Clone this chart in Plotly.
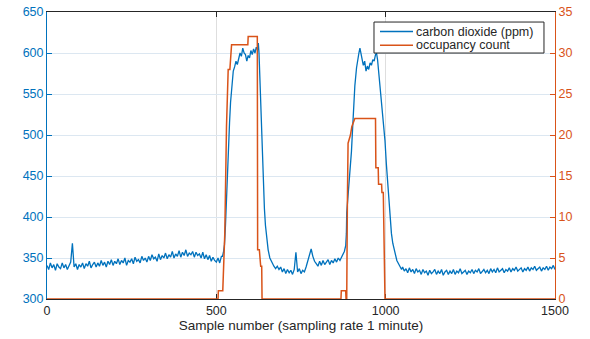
import plotly.graph_objects as go

# ---- CO2 (ppm) ----
# quiet period before first occupancy (samples 0..515, every 5 samples)
base1_x = list(range(0, 520, 5))
base1_y = [341, 336, 344, 338, 342, 335, 343, 339, 337, 344,
           338, 342, 336, 341, 345, 368, 339, 343, 336, 342,
           339, 344, 337, 343, 340, 346, 338, 342, 345, 339,
           344, 340, 347, 341, 345, 339, 346, 342, 348, 341,
           346, 343, 349, 342, 347, 344, 350, 341, 347, 345,
           349, 343, 351, 346, 348, 344, 352, 347, 350, 345,
           352, 347, 354, 349, 351, 346, 355, 348, 353, 350,
           356, 349, 354, 351, 358, 350, 355, 352, 359, 351,
           357, 353, 360, 352, 356, 354, 358, 351, 357, 353,
           355, 350, 357, 349, 354, 348, 353, 346, 351, 347,
           345, 350, 344, 352]
# first occupancy event
ev1_x = [518, 521, 524, 527, 530, 533, 536, 539, 542, 546, 550, 554, 558, 562, 566,
         570, 574, 578, 582, 586, 590, 594, 598, 602, 606, 610, 614, 618, 622, 624,
         626, 628, 630, 633, 636, 639, 642, 645, 649, 653, 658, 664, 670, 675]
ev1_y = [352, 357, 366, 390, 425, 465, 495, 515, 540, 562, 578, 583, 590, 586, 595,
         600, 596, 606, 600, 598, 590, 597, 594, 603, 598, 605, 600, 607, 604, 612,
         600, 575, 550, 505, 470, 436, 410, 390, 372, 360, 350, 344, 340, 337]
# between events (samples 680..870, every 5 samples)
base2_x = list(range(680, 875, 5))
base2_y = [340, 336, 339, 333, 337, 331, 336, 332, 335, 330,
           336, 357, 333, 337, 331, 335, 333, 339, 346, 354,
           361, 352, 346, 343, 340, 346, 341, 347, 342, 345,
           348, 342, 347, 344, 349, 345, 350, 347, 351]
# second occupancy event
ev2_x = [874, 878, 882, 884, 885, 888, 891, 895, 899, 902, 905, 909, 914, 918, 921,
         924, 927, 930, 934, 938, 942, 946, 950, 954, 958, 962, 966, 970, 973, 976,
         980, 983, 987, 991, 995, 998, 1002, 1006, 1010, 1013, 1017, 1021, 1025, 1028,
         1033, 1038, 1043, 1047]
ev2_y = [355, 358, 365, 380, 405, 420, 432, 453, 480, 505, 533, 560, 582, 595, 600,
         606, 598, 592, 585, 590, 578, 584, 580, 588, 585, 592, 590, 598, 600, 592,
         575, 558, 540, 520, 505, 493, 465, 440, 415, 400, 380, 368, 360, 355,
         347, 343, 340, 336]
# after the second event (samples 1050..1500, every 5 samples)
base3_x = list(range(1050, 1505, 5))
base3_y = [339, 334, 337, 332, 338, 333, 336, 331, 337, 333,
           335, 330, 336, 332, 334, 329, 335, 331, 333, 336,
           330, 334, 331, 336, 329, 333, 335, 330, 334, 331,
           336, 330, 334, 332, 337, 331, 333, 335, 330, 334,
           332, 336, 331, 335, 333, 337, 331, 334, 336, 332,
           335, 331, 337, 333, 336, 332, 338, 333, 335, 337,
           332, 336, 334, 338, 333, 337, 335, 339, 334, 336,
           338, 333, 337, 335, 339, 334, 338, 336, 340, 335,
           337, 339, 334, 338, 336, 340, 335, 339, 337, 341,
           336]

co2_x = base1_x + ev1_x + base2_x + ev2_x + base3_x
co2_y = base1_y + ev1_y + base2_y + ev2_y + base3_y

# ---- Occupancy count ----
occ_x = [0, 505, 506, 519, 525, 530, 535, 540, 545, 593, 594, 621, 622, 627, 631, 634, 635,
         868, 869, 882, 883, 885, 887, 889, 896, 900, 909, 970, 971, 978, 979, 988, 989,
         993, 998, 1500]
occ_y = [0, 0, 1, 1, 8, 21, 28, 28, 31, 31, 32, 32, 6, 6, 4, 4, 0,
         0, 1, 1, 0, 0, 12, 19, 20, 21, 22, 22, 16, 16, 14, 14, 13, 13, 0, 0]

x_ticks = [0, 500, 1000, 1500]
left_ticks = [300, 350, 400, 450, 500, 550, 600, 650]
right_ticks = [0, 5, 10, 15, 20, 25, 30, 35]
series_names = ["carbon dioxide (ppm)", "occupancy count"]

BLUE = "#0072BD"
RED = "#D95319"
DARK = "#262626"
FONT = "Liberation Sans, Arial, Helvetica, sans-serif"

fig = go.Figure()
fig.add_trace(go.Scatter(x=co2_x, y=co2_y, mode="lines", name=series_names[0],
                         line=dict(color=BLUE, width=1.3)))
fig.add_trace(go.Scatter(x=occ_x, y=occ_y, mode="lines", name=series_names[1],
                         line=dict(color=RED, width=1.5), yaxis="y2"))

# legend box (MATLAB style), placed in paper coordinates
lg_x0, lg_x1, lg_y0, lg_y1 = 0.6437, 0.9783, 0.857, 0.965
row_y = [0.932, 0.884]
shapes = [dict(type="rect", xref="paper", yref="paper", x0=lg_x0, x1=lg_x1, y0=lg_y0, y1=lg_y1,
               fillcolor="white", line=dict(color=DARK, width=1), layer="above")]
annotations = []
for name, col, ry in zip(series_names, [BLUE, RED], row_y):
    shapes.append(dict(type="line", xref="paper", yref="paper", x0=0.6555, x1=0.7205,
                       y0=ry, y1=ry, line=dict(color=col, width=1.5), layer="above"))
    annotations.append(dict(xref="paper", yref="paper", x=0.7225, y=ry, xanchor="left",
                            yanchor="middle", text=name, showarrow=False,
                            font=dict(size=12.5, color=DARK, family=FONT)))

fig.update_layout(
    width=590, height=339,
    margin=dict(l=47, r=35, t=12, b=40),
    paper_bgcolor="white", plot_bgcolor="white",
    font=dict(family=FONT, size=12, color=DARK),
    showlegend=False,
    shapes=shapes, annotations=annotations,
    xaxis=dict(range=[0, 1500], tickvals=x_ticks, ticktext=[str(v) for v in x_ticks],
               showline=True, linecolor=DARK, linewidth=1, mirror="ticks",
               ticks="inside", ticklen=5, tickcolor=DARK,
               showgrid=True, gridcolor="#DEDEDE", gridwidth=1,
               zeroline=False, layer="below traces", automargin=False,
               tickfont=dict(size=12.5, color=DARK),
               title=dict(text="Sample number (sampling rate 1 minute)",
                          font=dict(size=13.5, color=DARK), standoff=2)),
    yaxis=dict(range=[300, 650], tickvals=left_ticks, ticktext=[str(v) for v in left_ticks],
               showline=True, linecolor=BLUE, linewidth=1,
               ticks="inside", ticklen=5, tickcolor=BLUE,
               showgrid=True, gridcolor="#DCE7F1", gridwidth=1,
               zeroline=False, layer="below traces", automargin=False,
               tickfont=dict(size=12.5, color=BLUE)),
    yaxis2=dict(range=[0, 35], tickvals=right_ticks, ticktext=[str(v) for v in right_ticks],
                overlaying="y", side="right",
                showline=True, linecolor=RED, linewidth=1,
                ticks="inside", ticklen=5, tickcolor=RED,
                showgrid=False, zeroline=False, automargin=False,
                tickfont=dict(size=12.5, color=RED)),
)

fig.write_html("out.html", config={"displayModeBar": False},
               post_script="document.body.style.margin='0px';")
